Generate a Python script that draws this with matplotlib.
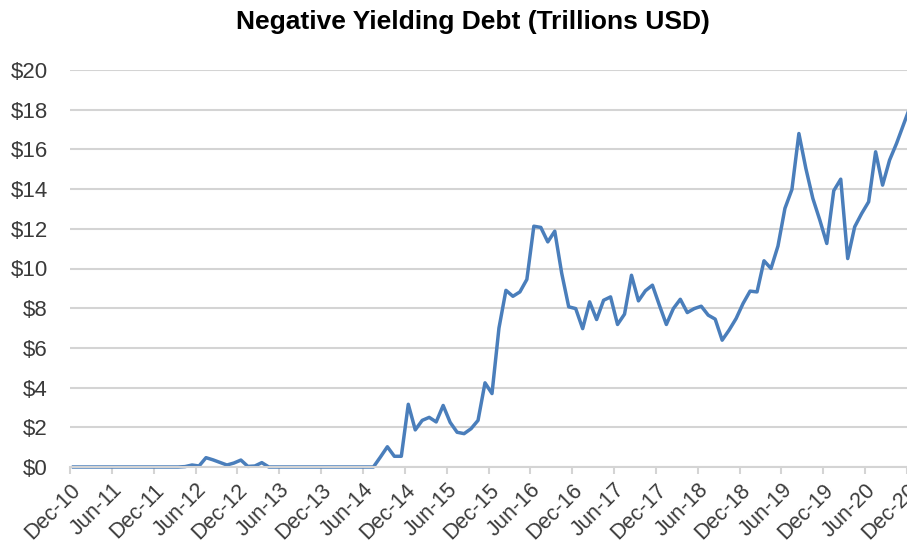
import matplotlib
matplotlib.use("Agg")
import matplotlib.pyplot as plt
import numpy as np

# monthly negative yielding debt, trillions USD, Dec-10 onward
debt = [
    0, 0, 0, 0, 0, 0, 0, 0, 0, 0,
    0, 0, 0, 0, 0, 0, 0.02, 0.1, 0.05, 0.47,
    0.36, 0.23, 0.1, 0.2, 0.35, 0.03, 0.05, 0.22, 0, 0,
    0, 0, 0, 0, 0, 0, 0, 0, 0, 0,
    0, 0, 0, 0, 0.5, 1.02, 0.54, 0.54, 3.16, 1.87,
    2.35, 2.5, 2.27, 3.1, 2.25, 1.75, 1.68, 1.93, 2.35, 4.24,
    3.7, 7.0, 8.9, 8.6, 8.82, 9.45, 12.13, 12.07, 11.34, 11.88,
    9.75, 8.07, 7.98, 6.97, 8.32, 7.43, 8.4, 8.57, 7.18, 7.7,
    9.66, 8.37, 8.88, 9.16, 8.15, 7.18, 7.98, 8.45, 7.78, 7.98,
    8.1, 7.65, 7.45, 6.39, 6.9, 7.48, 8.24, 8.86, 8.82, 10.39,
    10.0, 11.13, 13.03, 13.98, 16.8, 15.04, 13.53, 12.44, 11.26, 13.92,
    14.5, 10.5, 12.1, 12.77, 13.36, 15.88, 14.2, 15.46, 16.3, 17.25,
    18.2,
]
tick_labels = ["Dec-10", "Jun-11", "Dec-11", "Jun-12", "Dec-12", "Jun-13",
               "Dec-13", "Jun-14", "Dec-14", "Jun-15", "Dec-15", "Jun-16",
               "Dec-16", "Jun-17", "Dec-17", "Jun-18", "Dec-18", "Jun-19",
               "Dec-19", "Jun-20", "Dec-20"]
y_ticks = list(range(0, 21, 2))

plt.rcParams["font.family"] = ["Liberation Sans", "DejaVu Sans"]

fig = plt.figure(figsize=(9.07, 5.43), dpi=100)
ax = fig.add_axes([70 / 907, 76 / 543, 837 / 907, 397 / 543])

# points sit in the middle of each monthly category
x = np.arange(len(debt)) + 0.5
ax.plot(x, debt, color="#4a7ebb", lw=2.5, solid_joinstyle="round", clip_on=False)

ax.set_xlim(0, 120)
ax.set_ylim(0, 20)
ax.set_yticks(y_ticks)
ax.set_yticklabels([f"${v}" for v in y_ticks])
ax.set_xticks(np.arange(0, 121, 6))
ax.set_xticklabels(tick_labels, rotation=45, ha="right", rotation_mode="anchor")

ax.grid(axis="y", color="#d4d4d4", lw=1.5)
ax.set_axisbelow(True)
for side in ["top", "right", "left"]:
    ax.spines[side].set_visible(False)
ax.spines["bottom"].set_color("#d4d4d4")
ax.spines["bottom"].set_linewidth(1.5)
ax.tick_params(axis="y", length=0, pad=16, labelsize=16, labelcolor="#3a3a3a")
ax.tick_params(axis="x", length=5, width=1.5, color="#d4d4d4", pad=4,
               labelsize=15.5, labelcolor="#3a3a3a")

fig.text(473 / 907, 1 - 22 / 543, "Negative Yielding Debt (Trillions USD)",
         ha="center", va="center", fontsize=19, fontweight="bold", color="black")

fig.savefig("out.png", dpi=100)
